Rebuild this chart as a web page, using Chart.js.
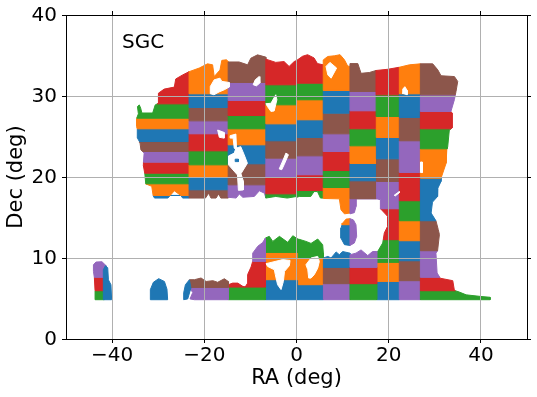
<!DOCTYPE html>
<html>
<head>
<meta charset="utf-8">
<title>SGC</title>
<script src="https://cdn.jsdelivr.net/npm/chart.js@4"></script>
<style>
  html, body { margin: 0; padding: 0; background: #fff; }
  canvas { display: block; }
</style>
</head>
<body>
<canvas id="skyChart" width="537" height="397"></canvas>
<script>
const xTicks = [-40, -20, 0, 20, 40];
const yTicks = [0, 10, 20, 30, 40];
const colorCycle = ['#1f77b4', '#ff7f0e', '#2ca02c', '#d62728', '#9467bd', '#8c564b'];

// footprint of each RA strip as [ra, dec], then the Dec cuts between tiles (going up)
const colAOutline = [[-34.7,27.2],[-34.3,27.8],[-34.5,28.7],[-34.1,28.9],[-33.8,28.5],[-33.55,27.9],[-31.2,27.9],[-30.65,28.9],[-29.95,29.1],[-29.95,30.35],[-28.7,30.85],[-26.5,31.1],[-26.2,32.1],[-24.7,32.6],[-23.3,33],[-23.3,17.4],[-24.7,17.4],[-25.05,17.7],[-26.5,18.3],[-27.9,17.4],[-30.8,17.4],[-31.1,17.7],[-31.4,18.85],[-32.7,19.15],[-32.9,20.4],[-33.25,21.5],[-33.05,22.95],[-33.75,23.35],[-33.95,24.25],[-34.5,24.8],[-34.5,25.8],[-34.7,26.25]];
const colACuts = [17.72, 19.16, 20.47, 21.83, 23.15, 24.38, 25.95, 27.26, 29.03];

const colBOutline = [[-23.3,33],[-21.1,33.45],[-19.3,33.97],[-18.2,33.85],[-17.85,32.4],[-16.6,33.2],[-16.2,34.4],[-15.2,34.47],[-14.82,34.26],[-14.82,17.4],[-16.4,17.4],[-16.9,17.9],[-17.45,17.4],[-18.55,17.4],[-19.05,18],[-19.75,17.4],[-23.3,17.4]];
const colBCuts = [18.42, 19.94, 21.5, 23.23, 25.33, 26.93, 28.58, 30.27];

const colCOutline = [[-14.82,34.2],[-12.45,34.2],[-10.6,33.85],[-9.9,34.67],[-8.45,35.08],[-6.65,34.8],[-6.65,17.4],[-6.95,18],[-8.05,18.3],[-9.15,17.6],[-11.65,17.5],[-12.4,17.9],[-13.1,17.4],[-14.82,17.5]];
const colCCuts = [19.03, 21.63, 23.97, 25.95, 27.59, 29.45, 31.67];

const colDOutline = [[-6.65,34.55],[-4.5,34.15],[-2.7,34.25],[-1.6,33.65],[-0.5,34.25],[0.07,34.4],[0.07,17.6],[-2,17.4],[-4.5,17.6],[-6.65,17.4]];
const colDCuts = [17.92, 19.98, 22.33, 24.47, 26.56, 28.91, 31.38];

const colEOutline = [[0.07,34.4],[1.3,34.9],[2.4,35.1],[3.8,34.7],[4.55,34],[5.8,33.85],[5.8,17.4],[5.2,17.4],[4.55,18.2],[3.8,18.2],[3.1,17.6],[0.6,17.6],[0.07,17.5]];
const colECuts = [18.33, 20.27, 22.61, 24.88, 27.06, 29.53, 31.58];

const colGOutline = [[5.8,34.45],[6.77,34.88],[8.2,34.96],[9.45,35.1],[10.4,34.47],[11.1,33.7],[11.6,33.65],[11.6,15.55],[10.4,15.45],[9.65,15.95],[9.3,17.3],[5.8,17.35]];
const colGCuts = [18.7, 20.8, 23.15, 25.33, 27.88, 30.68];

const colHOutline = [[11.6,34],[13.3,34],[14,32.8],[15.8,32.9],[17.25,33.15],[17.4,17.32],[12.9,17.32],[12.9,16.35],[12.55,15.6],[11.6,15.45]];
const colHCuts = [17.32, 19.53, 21.67, 23.85, 25.95, 28.17, 30.56];

const colIOutline = [[17.25,33.15],[19.8,33.3],[22.3,33.55],[22.3,4.85],[17.4,4.85],[17.4,10.6],[18.7,11.85],[19.05,13.1],[19.75,13.9],[19.75,15.15],[18.2,16.1],[18.2,17.2],[17.4,17.3]];
const colICuts = [7.11, 9.46, 12.26, 16.08, 19.45, 22.24, 24.88, 27.47, 30.14];

const colJOutline = [[22.3,33.55],[24.5,33.85],[26.87,33.97],[26.87,4.85],[22.3,4.85]];
const colJCuts = [7.2, 9.66, 12.13, 14.6, 17.07, 20.56, 24.47, 27.35, 30.27];

const colKOutline = [[26.87,33.97],[29.55,33.97],[30.65,33.23],[31.35,32.5],[34.25,32.4],[34.97,31.8],[34.6,30.55],[34.45,30.15],[34.25,29.55],[33.5,28.1],[33.75,27.9],[33.75,26.05],[33.15,25.8],[32.8,23.75],[32.6,23.35],[32.45,21.7],[31.35,19.85],[31.35,19.45],[30.65,18.6],[30.6,18.43],[30.6,17.6],[29.5,16.9],[29.2,15.55],[30.25,14.6],[30.75,13.5],[31,12.9],[30.6,10.9],[30.25,10.6],[30.5,8.15],[31.2,7.5],[33.9,7.2],[34.25,6],[35.3,5.8],[36.8,5.45],[40,5.25],[42,5.15],[42,4.85],[26.87,4.85]];
const colKCuts = [5.96, 7.61, 10.9, 14.6, 19.86, 23.48, 25.95, 28.09, 30.14];

// lower block
const low1Outline = [[-6.75,12.47],[-5.9,12.67],[-5.15,12.05],[-3.7,12.67],[-1.9,11.93],[-0.8,12.75],[0.4,12.3],[0.4,4.85],[-6.75,4.85]];
const low1Cuts = [7.32, 10.69];
const low2Outline = [[0.4,12.34],[2.05,12.05],[3.15,11.8],[4.6,12.34],[5.68,11.64],[5.83,10.6],[5.83,4.85],[0.4,4.85]];
const low2Cuts = [6.7, 10];
const low3Outline = [[5.83,10],[6.8,10.2],[7.5,10],[8.6,10.75],[9.3,10.4],[10,10.8],[11.6,10.6],[11.6,4.85],[5.83,4.85]];
const low3Cuts = [6.83, 8.84];
const low4Outline = [[11.6,10.4],[12.9,10.6],[14,11],[15.45,10.3],[16.5,10.8],[17.4,10.8],[17.4,4.85],[11.6,4.85]];
const low4Cuts = [6.83, 8.84];
const low5Outline = [[-14.8,6.7],[-13.85,6.9],[-12.75,6.9],[-11.65,6.5],[-11.15,6.41],[-10.6,6.9],[-10.6,7.95],[-9.85,8.9],[-9.5,9.6],[-9.5,10.6],[-8.4,11.45],[-7.35,11.9],[-6.75,12.45],[-6.75,4.85],[-14.8,4.85]];
const low5Cuts = [6.41, 9.58];
const low6Outline = [[-23.24,7.32],[-22.15,7.32],[-20.7,7.53],[-19.6,7.1],[-18.15,7.2],[-17.1,7],[-15.65,7.44],[-14.8,7.1],[-14.8,4.85],[-22.15,4.85],[-23.1,4.95],[-22.5,5.75],[-23.24,6.3]];
const low6Cuts = [6.37];

// small patches
const islandOutline = [[11.6,14.85],[10.75,14.8],[10,14.3],[9.65,13.7],[9.65,12.45],[10.4,11.65],[11.6,11.55]];
const islandCuts = [14.11];
const islandRight = [[11.6,14.85],[12.35,14.7],[12.9,14.1],[13.05,12.67],[12.55,11.85],[11.6,11.55]];
const blobNear = [[-24.47,5.7],[-24.1,6.7],[-23.24,7.3],[-22.9,6.3],[-23.6,4.95],[-24.47,4.85]];
const blobMid = [[-31.7,4.85],[-31.7,6.1],[-31.05,7],[-29.9,7.45],[-28.65,7.1],[-28.1,6.15],[-27.95,4.85]];
const farOutline = [[-44.05,8.35],[-44.05,9.17],[-43.5,9.5],[-42.2,9.54],[-41.3,9.05],[-41.3,6.1],[-41.7,4.85],[-43.5,4.85],[-43.7,6],[-43.85,7.6]];
const farCuts = [5.96, 7.61];
const farBlue = [[-41.9,4.85],[-41.9,6.1],[-41.9,8.55],[-41.45,9.05],[-40.95,8.8],[-40.8,7.3],[-40.25,6.7],[-40.1,4.85]];

const holeA = [[-18.6,30.27],[-18.7,31.17],[-17.85,32],[-16.6,32.2],[-16.2,31.8],[-14.6,31.67],[-14.6,31.1],[-15.7,30.76],[-16.8,30.5],[-17.9,30.15]];
const holeB = [[-14.75,22.6],[-13.5,22.95],[-13.15,23.55],[-12.1,23.75],[-11.35,22.75],[-10.65,21.7],[-12.05,20.4],[-11.5,19.45],[-11.55,18.4],[-12.6,18.35],[-12.8,20.25],[-14.75,21.5]];
const holeC = [[-14.4,25.1],[-13.15,25.3],[-13,23.35],[-13.5,23.55],[-13.75,24.8],[-14.25,24.8]];
const holeD = [[-17.1,25.8],[-15.7,25.5],[-15.7,24.8],[-16.75,24.9]];
const holeE = [[-9.4,31.4],[-8.95,32],[-8.1,32.4],[-7.95,31.6],[-8.7,31.25]];
const holeF = [[-6.65,29.05],[-5.55,29.1],[-4.5,30.15],[-4.25,29.55],[-4.85,28.15],[-5.55,28.1],[-6.3,28.7]];
const holeG = [[-3.75,21],[-2.9,22.1],[-2.3,22.95],[-1.75,22.75],[-2.7,21.5],[-3.2,20.9]];
const holeH = [[6.4,33.65],[7.25,34.15],[8.7,33.45],[7.5,32.2],[6.8,32.6]];
const holeI = [[22.9,30.35],[23.05,30.85],[23.5,31.15],[24,30.7],[24,30.15]];
const holeJ = [[26.9,21.85],[27.3,21.85],[27.3,20.55],[26.9,20.55]];
const holeK = [[21.2,17.75],[22.3,18.2],[22.3,18.05],[21.4,17.65]];
const holeL = [[-6.6,9.3],[-4.45,9.6],[-3,9.8],[-1.4,9.7],[-1.55,9.05],[-2.6,8.35],[-2.85,7.1],[-3.35,6.1],[-4.1,6.7],[-4.6,7.95],[-4.8,8.55],[-6.25,8.95]];
const holeM = [[2.05,9.17],[3.15,10],[4.6,10.2],[4.95,9.58],[4.6,8.75],[3.85,7.94],[3.15,7.52],[2.65,7.52],[2.45,8.55]];
const holeDot = [[-13.3,22.2],[-12.6,22.2],[-12.6,21.9],[-13.3,21.9]];

// outline, cuts, colour index of the lowest tile
const tileBlocks = [
  [colAOutline, colACuts, 0], [colBOutline, colBCuts, 5], [colCOutline, colCCuts, 4],
  [colDOutline, colDCuts, 2], [colEOutline, colECuts, 2], [colGOutline, colGCuts, 1],
  [colHOutline, colHCuts, 4], [colIOutline, colICuts, 0], [colJOutline, colJCuts, 4],
  [colKOutline, colKCuts, 2], [low1Outline, low1Cuts, 0], [low2Outline, low2Cuts, 0],
  [low3Outline, low3Cuts, 4], [low4Outline, low4Cuts, 2], [low5Outline, low5Cuts, 2],
  [low6Outline, low6Cuts, 4], [islandOutline, islandCuts, 0], [islandRight, [], 4],
  [blobNear, [], 0], [blobMid, [], 0], [farOutline, farCuts, 2], [farBlue, [], 0]
];
const holes = [holeA, holeB, holeC, holeD, holeE, holeF, holeG, holeH, holeI, holeJ, holeK, holeL, holeM];

// keep the part of a polygon on one side of a Dec line
function clipDec(poly, limit, keepAbove) {
  const inside = p => keepAbove ? p[1] >= limit : p[1] <= limit;
  const out = [];
  poly.forEach((p, i) => {
    const q = poly[(i + 1) % poly.length];
    if (inside(p)) out.push(p);
    if (inside(p) !== inside(q)) {
      const t = (limit - p[1]) / (q[1] - p[1]);
      out.push([p[0] + t * (q[0] - p[0]), limit]);
    }
  });
  return out;
}

const datasets = [];
function addPatch(poly, color) {
  if (poly.length < 3) return;
  const pts = poly.concat([poly[0]]).map(p => ({ x: p[0], y: p[1] }));
  datasets.push({
    data: pts,
    showLine: true,
    fill: 'shape',
    tension: 0,
    pointRadius: 0,
    borderWidth: 1,
    borderColor: color,
    backgroundColor: color,
    order: -datasets.length
  });
}

tileBlocks.forEach(([outline, cuts, first]) => {
  for (let i = 0; i <= cuts.length; i++) {
    let poly = outline;
    if (i > 0) poly = clipDec(poly, cuts[i - 1], true);
    if (i < cuts.length) poly = clipDec(poly, cuts[i], false);
    addPatch(poly, colorCycle[(first + i) % colorCycle.length]);
  }
});
holes.forEach(h => addPatch(h, '#ffffff'));
addPatch(holeDot, colorCycle[0]);

const sgcLabel = {
  id: 'sgcLabel',
  afterDraw(chart) {
    const { ctx, scales } = chart;
    ctx.save();
    ctx.font = '20px "DejaVu Sans"';
    ctx.fillStyle = '#000';
    ctx.textBaseline = 'alphabetic';
    ctx.fillText('SGC', scales.x.getPixelForValue(-37.85), scales.y.getPixelForValue(35.9));
    ctx.restore();
  }
};

Chart.defaults.font.family = '"DejaVu Sans"';

const noPad = s => { s.paddingTop = s.paddingBottom = s.paddingLeft = s.paddingRight = 0; };
const lineStyle = { color: '#b0b0b0', lineWidth: 1, tickColor: '#000', tickLength: 4, tickWidth: 1, z: 1 };
const edge = { color: '#000', width: 1, z: 2 };

new Chart(document.getElementById('skyChart').getContext('2d'), {
  type: 'scatter',
  data: { datasets },
  plugins: [sgcLabel],
  options: {
    responsive: false,
    animation: false,
    events: [],
    layout: { padding: 0 },
    plugins: { legend: { display: false }, tooltip: { enabled: false } },
    scales: {
      x: {
        min: -50, max: 50,
        afterBuildTicks: s => { s.ticks = xTicks.map(v => ({ value: v })); },
        afterFit: s => { s.height = 58; noPad(s); },
        grid: lineStyle,
        border: edge,
        ticks: {
          color: '#000', padding: 1, maxRotation: 0,
          font: { size: 20 },
          callback: v => String(v).replace('-', '\u2212')
        },
        title: { display: true, text: 'RA (deg)', color: '#000', font: { size: 21 }, padding: { top: 0, bottom: 6 } }
      },
      y: {
        min: 0, max: 40,
        afterBuildTicks: s => { s.ticks = yTicks.map(v => ({ value: v })); },
        afterFit: s => { s.width = 66; noPad(s); },
        grid: lineStyle,
        border: edge,
        ticks: { color: '#000', padding: 5, labelOffset: 1, font: { size: 20 } },
        title: { display: true, text: 'Dec (deg)', color: '#000', font: { size: 21 }, padding: { top: 4, bottom: 0 } }
      },
      xTop: {
        axis: 'x', position: 'top', min: -50, max: 50,
        afterBuildTicks: s => { s.ticks = xTicks.map(v => ({ value: v })); },
        afterFit: s => { s.height = 15; noPad(s); },
        grid: { drawOnChartArea: false, tickColor: '#000', tickLength: 4 },
        border: edge,
        ticks: { display: false }
      },
      yRight: {
        axis: 'y', position: 'right', min: 0, max: 40,
        afterBuildTicks: s => { s.ticks = yTicks.map(v => ({ value: v })); },
        afterFit: s => { s.width = 10; noPad(s); },
        grid: { drawOnChartArea: false, tickColor: '#000', tickLength: 4 },
        border: edge,
        ticks: { display: false }
      }
    }
  }
});
</script>
</body>
</html>
